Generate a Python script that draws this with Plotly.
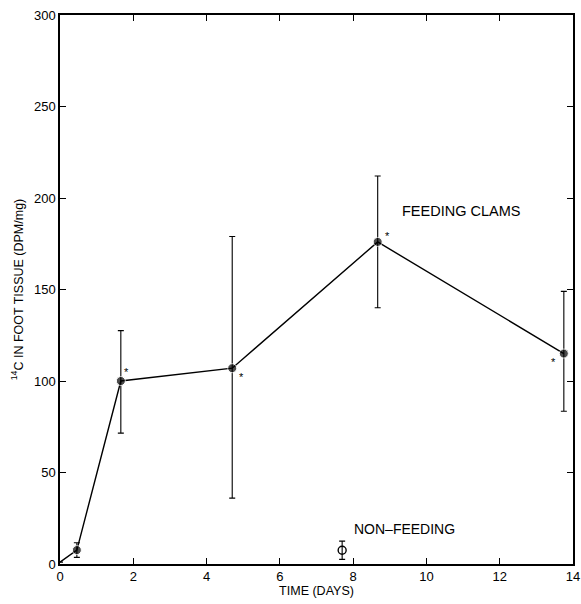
import plotly.graph_objects as go

# Feeding clams
feed_days = [0.0, 0.46, 1.66, 4.7, 8.67, 13.75]
feed_dpm = [1, 7.6, 100, 107, 176, 115]
feed_err_plus = [0, 4, 27.5, 72, 36, 34]
feed_err_minus = [0, 4, 28.5, 71, 36, 31.5]
feed_marker = [0, 9, 9, 9, 9, 9]

# Significance asterisks (attached to points)
star_days = [1.66, 4.7, 8.67, 13.75]
star_dpm = [100, 107, 176, 115]
star_dx = [6, 9, 10, -10]
star_dy = [9, -9, 6, -8]

# Non-feeding
nonfeed_days = [7.7]
nonfeed_dpm = [7.5]
nonfeed_err = [5]

x_ticks = [0, 2, 4, 6, 8, 10, 12, 14]
y_ticks = [0, 50, 100, 150, 200, 250, 300]

FONT = "Liberation Sans, Arial, Helvetica, sans-serif"

fig = go.Figure()
fig.add_trace(go.Scatter(
    x=feed_days, y=feed_dpm, mode="lines+markers",
    line=dict(color="black", width=1.4),
    marker=dict(color="black", size=feed_marker),
    error_y=dict(type="data", symmetric=False, array=feed_err_plus,
                 arrayminus=feed_err_minus, color="black", thickness=1.1, width=3),
    showlegend=False, hoverinfo="skip"))
fig.add_trace(go.Scatter(
    x=nonfeed_days, y=nonfeed_dpm, mode="markers",
    marker=dict(symbol="circle-open", color="black", size=8, line=dict(width=1.4)),
    error_y=dict(type="data", array=nonfeed_err, color="black", thickness=1.1, width=3),
    showlegend=False, hoverinfo="skip"))

for xd, yd, dx, dy in zip(star_days, star_dpm, star_dx, star_dy):
    fig.add_annotation(x=xd, y=yd, text="*", showarrow=False, xshift=dx, yshift=dy,
                       font=dict(family=FONT, size=11, color="black"))

fig.add_annotation(x=9.28, y=193, text="FEEDING CLAMS", showarrow=False,
                   xanchor="left", font=dict(family=FONT, size=14.5, color="black"))
fig.add_annotation(x=7.97, y=19, text="NON\u2013FEEDING", showarrow=False,
                   xanchor="left", font=dict(family=FONT, size=14, color="black"))

axis_common = dict(showgrid=False, zeroline=False, showline=True, linecolor="black",
                   linewidth=1.5, mirror="ticks", ticks="inside", ticklen=6,
                   tickcolor="black", tickwidth=1.2, automargin=False,
                   ticklabeloverflow="allow",
                   tickfont=dict(family=FONT, size=13, color="black"))
fig.update_xaxes(range=[0, 14], tickvals=x_ticks, **axis_common,
                 title=dict(text="TIME (DAYS)", font=dict(family=FONT, size=12.5, color="black"),
                            standoff=2))
fig.update_yaxes(range=[0, 300], tickvals=y_ticks, **axis_common,
                 title=dict(text="<sup>14</sup>C IN FOOT TISSUE (DPM/mg)",
                            font=dict(family=FONT, size=12.5, color="black"), standoff=8))
fig.update_layout(width=581, height=604, margin=dict(l=60, r=8, t=15, b=40),
                  plot_bgcolor="white", paper_bgcolor="white")
fig.write_html("out.html", config={"displayModeBar": False},
               post_script="document.body.style.margin='0px';"
                           "document.body.style.overflow='hidden';")
